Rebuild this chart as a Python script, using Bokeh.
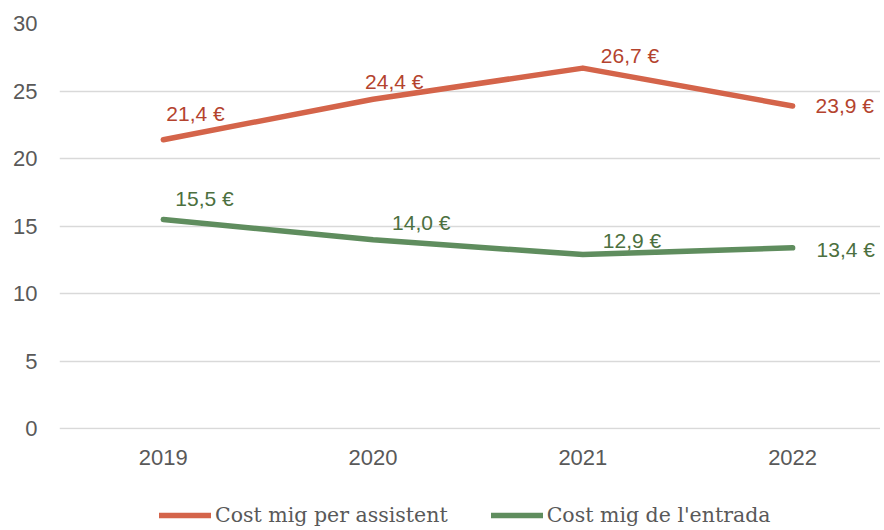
from bokeh.plotting import figure
from bokeh.layouts import column
from bokeh.models import Range1d, FixedTicker, Legend, LegendItem, ColumnDataSource, LabelSet
from bokeh.core.properties import value
from bokeh.embed import file_html
from bokeh.resources import INLINE

years = [2019, 2020, 2021, 2022]
year_labels = ["2019", "2020", "2021", "2022"]
cost_assistent = [21.4, 24.4, 26.7, 23.9]
cost_entrada = [15.5, 14.0, 12.9, 13.4]
series_names = ["Cost mig per assistent", "Cost mig de l'entrada"]
y_ticks = [0, 5, 10, 15, 20, 25, 30]

# label pixel offsets (style)
off_a_x = [3, -8, 18, 23]
off_a_y = [26, 18, 13, 0]
off_e_x = [12, 19, 20, 24]
off_e_y = [21, 17, 14, -2]

RED = "#D4644A"
RED_TXT = "#B4432E"
GREEN = "#5F8D5E"
GREEN_TXT = "#4C7040"
GRAY = "#595959"

def fmt(v):
    return ("%.1f" % v).replace(".", ",") + " €"

p = figure(width=880, height=480, output_backend="svg", toolbar_location=None,
           x_range=Range1d(2018.505, 2022.419), y_range=Range1d(-0.04, 30),
           min_border_left=59, min_border_right=0, min_border_top=23, min_border_bottom=51)
p.outline_line_color = None
p.background_fill_color = "white"
p.border_fill_color = "white"

p.xgrid.visible = False
p.ygrid.grid_line_color = "#D9D9D9"
p.ygrid.grid_line_width = 1.5

p.yaxis.ticker = FixedTicker(ticks=y_ticks)
p.xaxis.ticker = FixedTicker(ticks=years)
p.xaxis.major_label_overrides = {y: l for y, l in zip(years, year_labels)}
for ax in (p.xaxis, p.yaxis):
    ax.axis_line_color = None
    ax.major_tick_line_color = None
    ax.minor_tick_line_color = None
    ax.major_label_text_font = "Liberation Sans"
    ax.major_label_text_font_size = "22px"
    ax.major_label_text_color = GRAY
p.yaxis.major_label_standoff = 16
p.xaxis.major_label_standoff = 14

src_a = ColumnDataSource(dict(x=years, y=cost_assistent, t=[fmt(v) for v in cost_assistent],
                              ox=off_a_x, oy=off_a_y))
src_e = ColumnDataSource(dict(x=years, y=cost_entrada, t=[fmt(v) for v in cost_entrada],
                              ox=off_e_x, oy=off_e_y))

p.line("x", "y", source=src_a, line_color=RED, line_width=5.5, line_cap="round", line_join="round")
p.line("x", "y", source=src_e, line_color=GREEN, line_width=5.5, line_cap="round", line_join="round")

for src, col in ((src_a, RED_TXT), (src_e, GREEN_TXT)):
    p.add_layout(LabelSet(x="x", y="y", text="t", source=src, x_offset="ox", y_offset="oy",
                          text_font=value("Liberation Sans"), text_font_size="21px", text_color=col,
                          text_baseline="middle", text_align="left"))

# legend strip (same series, drawn outside its visible range so only the legend shows)
pl = figure(width=880, height=50, output_backend="svg", toolbar_location=None,
            x_range=Range1d(0, 1), y_range=Range1d(0, 1),
            min_border_left=0, min_border_right=0, min_border_top=0, min_border_bottom=0)
pl.axis.visible = False
pl.grid.visible = False
pl.outline_line_color = None
ra = pl.line("x", "y", source=src_a, line_color=RED, line_width=5.5, line_cap="round")
re_ = pl.line("x", "y", source=src_e, line_color=GREEN, line_width=5.5, line_cap="round")

legend = Legend(items=[LegendItem(label=series_names[0], renderers=[ra]),
                       LegendItem(label=series_names[1], renderers=[re_])],
                orientation="horizontal", location=(100, 3),
                label_text_font="DejaVu Serif", label_text_font_size="20.5px",
                label_text_color=GRAY, glyph_width=52, glyph_height=22,
                label_standoff=4, spacing=43, border_line_color=None,
                background_fill_alpha=0, margin=0, padding=0)
pl.add_layout(legend)

layout = column(p, pl, spacing=0)
open("out.html", "w").write(file_html(layout, INLINE))
